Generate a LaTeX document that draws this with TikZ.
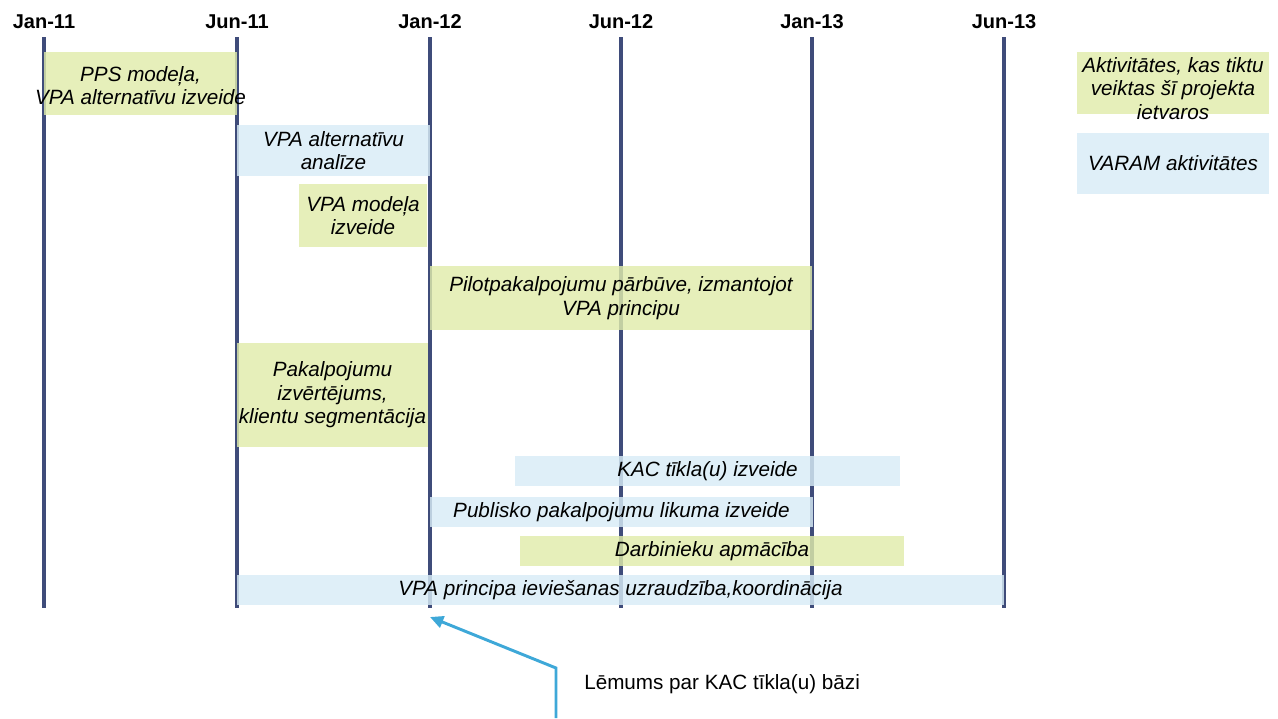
\documentclass[tikz,border=0pt]{standalone}
\usepackage{fontspec}
\setmainfont{Liberation Sans}
\usetikzlibrary{
    arrows.meta,
    positioning,
    fit
}
\definecolor{LineNavy}{RGB}{63,76,122}
\definecolor{ProjGreen}{RGB}{224,235,171}
\definecolor{VaramBlue}{RGB}{216,236,246}
\definecolor{NoteBlue}{RGB}{62,168,216}

\begin{document}
\begin{tikzpicture}[
    x=0.75pt, y=-0.75pt,
    month/.style   = {anchor=base, font=\fontsize{15}{17}\selectfont\bfseries},
    tline/.style   = {line width=2.6pt, color=LineNavy},
    act/.style     = {rectangle, inner sep=0pt, draw=none, fill opacity=0.82},
    proj/.style    = {act, fill=ProjGreen},
    varam/.style   = {act, fill=VaramBlue},
    txt/.style     = {align=center, inner sep=0pt, text opacity=1,
                      font=\fontsize{15.5}{17.6}\selectfont\itshape},
    note/.style    = {anchor=west, inner sep=0pt, font=\fontsize{15.5}{17.6}\selectfont},
    pointer/.style = {-{Triangle[length=10pt, width=9pt]}, line width=2.2pt, color=NoteBlue},
  ]
  \useasboundingbox (0,0) rectangle (1278,718);

  % timeline
  \foreach \x/\m [count=\i] in {44/Jan-11, 237/Jun-11, 430/Jan-12,
                                621/Jun-12, 812/Jan-13, 1004/Jun-13}{
    \node[month] (m\i) at (\x,28) {\m};
    \draw[tline] (\x,37) -- (\x,608);
  }

  % activities
  \node[proj, fit={(44,52) (237,115)},
        label={[txt, yshift=-1.5pt]center:{PPS modeļa,\\VPA alternatīvu izveide}}] (pps) {};
  \node[varam, fit={(237,125) (430,176)},
        label={[txt]center:{VPA alternatīvu\\analīze}}] (altan) {};
  \node[proj, fit={(299,184) (427,247)},
        label={[txt]center:{VPA modeļa\\izveide}}] (vpamod) {};
  \node[proj, fit={(430,266) (812,330)},
        label={[txt]center:{Pilotpakalpojumu pārbūve, izmantojot\\VPA principu}}] (pilot) {};
  \node[proj, fit={(237,343) (428,447)},
        label={[txt]center:{Pakalpojumu\\izvērtējums,\\klientu segmentācija}}] (izvert) {};
  \node[varam, fit={(515,456) (900,486)},
        label={[txt]center:{KAC tīkla(u) izveide}}] (kac) {};
  \node[varam, fit={(430,497) (813,527)},
        label={[txt]center:{Publisko pakalpojumu likuma izveide}}] (likums) {};
  \node[proj, fit={(520,536) (904,566)},
        label={[txt]center:{Darbinieku apmācība}}] (apmac) {};
  \node[varam, fit={(237,575) (1004,605)},
        label={[txt]center:{VPA principa ieviešanas uzraudzība,koordinācija}}] (uzraug) {};

  % legend
  \node[proj, fit={(1077,52) (1269,114)},
        label={[txt, yshift=-4pt]center:{Aktivitātes, kas tiktu\\veiktas šī projekta\\ietvaros}}] (legproj) {};
  \node[varam, fit={(1077,133) (1269,194)},
        label={[txt]center:{VARAM aktivitātes}}] (legvaram) {};

  % decision
  \node[note] (lemums) at (584,684) {Lēmums par KAC tīkla(u) bāzi};
  \coordinate (tail)   at (556,718);
  \coordinate (bend)   at (556,668);
  \coordinate (target) at (430,617);
  \draw[pointer] (tail) -- (bend) -- (target);

\end{tikzpicture}
\end{document}
